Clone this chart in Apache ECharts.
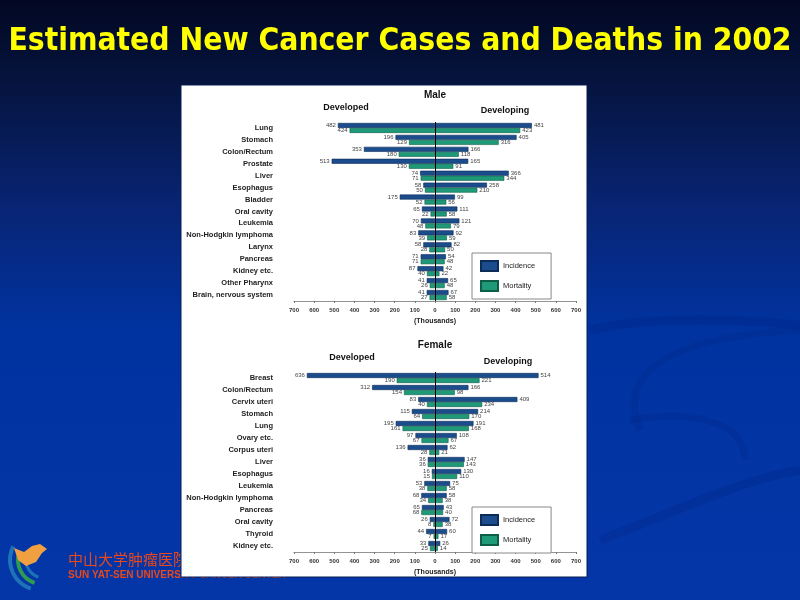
<!DOCTYPE html>
<html>
<head>
<meta charset="utf-8">
<script src="https://cdn.jsdelivr.net/npm/echarts@6/dist/echarts.min.js"></script>
<style>html,body{margin:0;padding:0;background:#0a2f8e;}#c{width:800px;height:600px;}</style>
</head>
<body>
<div id="c"></div>
<script>
var maleCats = ['Lung','Stomach','Colon/Rectum','Prostate','Liver','Esophagus','Bladder','Oral cavity','Leukemia','Non-Hodgkin lymphoma','Larynx','Pancreas','Kidney etc.','Other Pharynx','Brain, nervous system'];
var maleDevelopedIncidence = [482,196,353,513,74,58,175,65,70,83,58,71,87,41,41];
var maleDevelopedMortality = [424,129,180,130,71,50,52,22,48,39,28,71,40,26,27];
var maleDevelopingIncidence = [481,405,166,165,366,258,99,111,121,92,82,54,42,65,67];
var maleDevelopingMortality = [423,316,118,91,344,210,56,58,79,59,50,48,22,48,58];

var femaleCats = ['Breast','Colon/Rectum','Cervix uteri','Stomach','Lung','Ovary etc.','Corpus uteri','Liver','Esophagus','Leukemia','Non-Hodgkin lymphoma','Pancreas','Oral cavity','Thyroid','Kidney etc.'];
var femaleDevelopedIncidence = [636,312,83,115,195,97,136,36,16,53,68,65,26,44,33];
var femaleDevelopedMortality = [190,154,40,64,161,67,28,36,15,38,34,68,8,7,25];
var femaleDevelopingIncidence = [514,166,409,214,191,108,62,147,130,75,58,43,72,60,26];
var femaleDevelopingMortality = [221,98,234,170,168,67,21,143,110,58,38,40,38,17,14];

var chart = echarts.init(document.getElementById('c'));
var INC = '#1b4c8c', INC_B = '#0d2b57', MORT = '#1f9a78', MORT_B = '#0e5e47';
var FONT = 'Liberation Sans, Arial, sans-serif';

function neg(a){ return a.map(function(v){ return -v; }); }
function barSeries(name, data, idx, stack, color, border, pos, withLine){
  var s = {
    type:'bar', name:name, xAxisIndex:idx, yAxisIndex:idx, stack:stack + idx,
    data:data, barWidth:5, barGap:'0%',
    itemStyle:{color:color, borderColor:border, borderWidth:0.6},
    label:{show:true, position:pos, distance:2, fontSize:6, color:'#444', fontFamily:FONT,
      formatter:function(p){ return Math.abs(p.value); }},
    emphasis:{disabled:true}, animation:false
  };
  if (withLine) {
    s.markLine = {symbol:'none', silent:true, animation:false, label:{show:false},
      lineStyle:{color:'#000', width:1, type:'solid'}, data:[{xAxis:0}]};
  }
  return s;
}
function xAxisCfg(idx){
  return {gridIndex:idx, type:'value', min:-700, max:700, interval:100,
    name:'(Thousands)', nameLocation:'middle', nameGap:17,
    nameTextStyle:{fontSize:7, fontWeight:'bold', color:'#222', fontFamily:FONT},
    axisLine:{show:true, onZero:false, lineStyle:{color:'#777', width:0.8}},
    axisTick:{show:true, length:2, lineStyle:{color:'#777'}},
    splitLine:{show:false},
    axisLabel:{fontSize:6, fontWeight:'bold', color:'#333', margin:6, fontFamily:FONT,
      formatter:function(v){ return Math.abs(v); }}};
}
function yAxisCfg(idx, cats){
  return {gridIndex:idx, type:'category', data:cats, inverse:true,
    axisLine:{show:false}, axisTick:{show:false}, splitLine:{show:false},
    axisLabel:{fontSize:7.5, fontWeight:'bold', color:'#222', margin:21, fontFamily:FONT}};
}
function txt(x, y, text, size, color, weight, align, family, z){
  return {type:'text', x:x, y:y, z: z || 5,
    style:{text:text, fill:color, fontSize:size, fontWeight:weight || 'bold',
      fontFamily:family || FONT, textAlign:align || 'center', textVerticalAlign:'middle'}};
}
function legendCfg(top){
  return {left:472, top:top, orient:'vertical', icon:'rect', itemWidth:17, itemHeight:10, itemGap:8,
    padding:[7,16,7,8], borderColor:'#888', borderWidth:1, backgroundColor:'#fff',
    data:['Incidence','Mortality'], textStyle:{fontSize:7.5, color:'#222', fontFamily:FONT},
    selectedMode:false};
}

var option = {
  animation:false,
  graphic:[
    {type:'rect', z:-10, shape:{x:0, y:0, width:800, height:600},
      style:{fill:new echarts.graphic.LinearGradient(0,0,0,1,[
        {offset:0, color:'#020822'}, {offset:0.12, color:'#05123a'},
        {offset:0.35, color:'#082575'}, {offset:0.55, color:'#0033a0'},
        {offset:1, color:'#0536a8'}])}},
    {type:'bezierCurve', z:-9, shape:{x1:590, y1:330, x2:800, y2:325, cpx1:660, cpy1:315, cpx2:740, cpy2:320},
      style:{stroke:'rgba(0,20,100,0.14)', lineWidth:9, fill:null}},
    {type:'bezierCurve', z:-9, shape:{x1:640, y1:430, x2:800, y2:330, cpx1:610, cpy1:360, cpx2:700, cpy2:335},
      style:{stroke:'rgba(0,20,100,0.13)', lineWidth:7, fill:null}},
    {type:'bezierCurve', z:-9, shape:{x1:600, y1:540, x2:800, y2:470, cpx1:680, cpy1:510, cpx2:740, cpy2:480},
      style:{stroke:'rgba(0,20,100,0.14)', lineWidth:9, fill:null}},
    {type:'bezierCurve', z:-9, shape:{x1:630, y1:420, x2:745, y2:460, cpx1:690, cpy1:410, cpx2:745, cpy2:420},
      style:{stroke:'rgba(0,20,100,0.12)', lineWidth:7, fill:null}},
    txt(400, 42, 'Estimated New Cancer Cases and Deaths in 2002', 31.5, '#ffff00', 'bold', 'center', 'DejaVu Sans Condensed, DejaVu Sans, sans-serif', 1),
    // logo
    {type:'arc', z:-8, shape:{cx:40, cy:560, r:30, startAngle:Math.PI*0.6, endAngle:Math.PI*1.15},
      style:{stroke:'#1e73b8', lineWidth:4, fill:null}},
    {type:'arc', z:-8, shape:{cx:42, cy:560, r:24, startAngle:Math.PI*0.6, endAngle:Math.PI*1.1},
      style:{stroke:'#2e9a52', lineWidth:4, fill:null}},
    {type:'arc', z:-8, shape:{cx:44, cy:560, r:18, startAngle:Math.PI*0.6, endAngle:Math.PI*1.05},
      style:{stroke:'#1e73b8', lineWidth:3, fill:null}},
    {type:'polygon', z:-8, shape:{points:[[14,548],[24,552],[32,546],[40,544],[47,549],[42,553],[36,562],[26,566],[18,560]]},
      style:{fill:'#f0a040'}},
    txt(68, 559, '中山大学肿瘤医院', 15, '#e8481c', 'normal', 'left', 'Noto Sans CJK SC, sans-serif', -8),
    txt(68, 575, 'SUN YAT-SEN UNIVERSITY CANCER CENTER', 10, '#e8481c', 'bold', 'left', FONT, -8),
    // white panel
    {type:'rect', z:-5, shape:{x:181, y:85, width:406, height:492}, style:{fill:'#ffffff', stroke:'#0a1c50', lineWidth:1}},
    txt(435, 95, 'Male', 10, '#111'),
    txt(346, 108, 'Developed', 9, '#111'),
    txt(505, 111, 'Developing', 9, '#111'),
    txt(435, 345, 'Female', 10, '#111'),
    txt(352, 358, 'Developed', 9, '#111'),
    txt(508, 362, 'Developing', 9, '#111')
  ],
  legend:[legendCfg(253), legendCfg(507)],
  grid:[
    {left:294, width:282, top:122, height:179},
    {left:294, width:282, top:372, height:180}
  ],
  xAxis:[xAxisCfg(0), xAxisCfg(1)],
  yAxis:[yAxisCfg(0, maleCats), yAxisCfg(1, femaleCats)],
  series:[
    barSeries('Incidence', neg(maleDevelopedIncidence), 0, 'inc', INC, INC_B, 'left', true),
    barSeries('Mortality', neg(maleDevelopedMortality), 0, 'mort', MORT, MORT_B, 'left'),
    barSeries('Incidence', maleDevelopingIncidence, 0, 'inc', INC, INC_B, 'right'),
    barSeries('Mortality', maleDevelopingMortality, 0, 'mort', MORT, MORT_B, 'right'),
    barSeries('Incidence', neg(femaleDevelopedIncidence), 1, 'inc', INC, INC_B, 'left', true),
    barSeries('Mortality', neg(femaleDevelopedMortality), 1, 'mort', MORT, MORT_B, 'left'),
    barSeries('Incidence', femaleDevelopingIncidence, 1, 'inc', INC, INC_B, 'right'),
    barSeries('Mortality', femaleDevelopingMortality, 1, 'mort', MORT, MORT_B, 'right')
  ]
};
chart.setOption(option);
</script>
</body>
</html>
